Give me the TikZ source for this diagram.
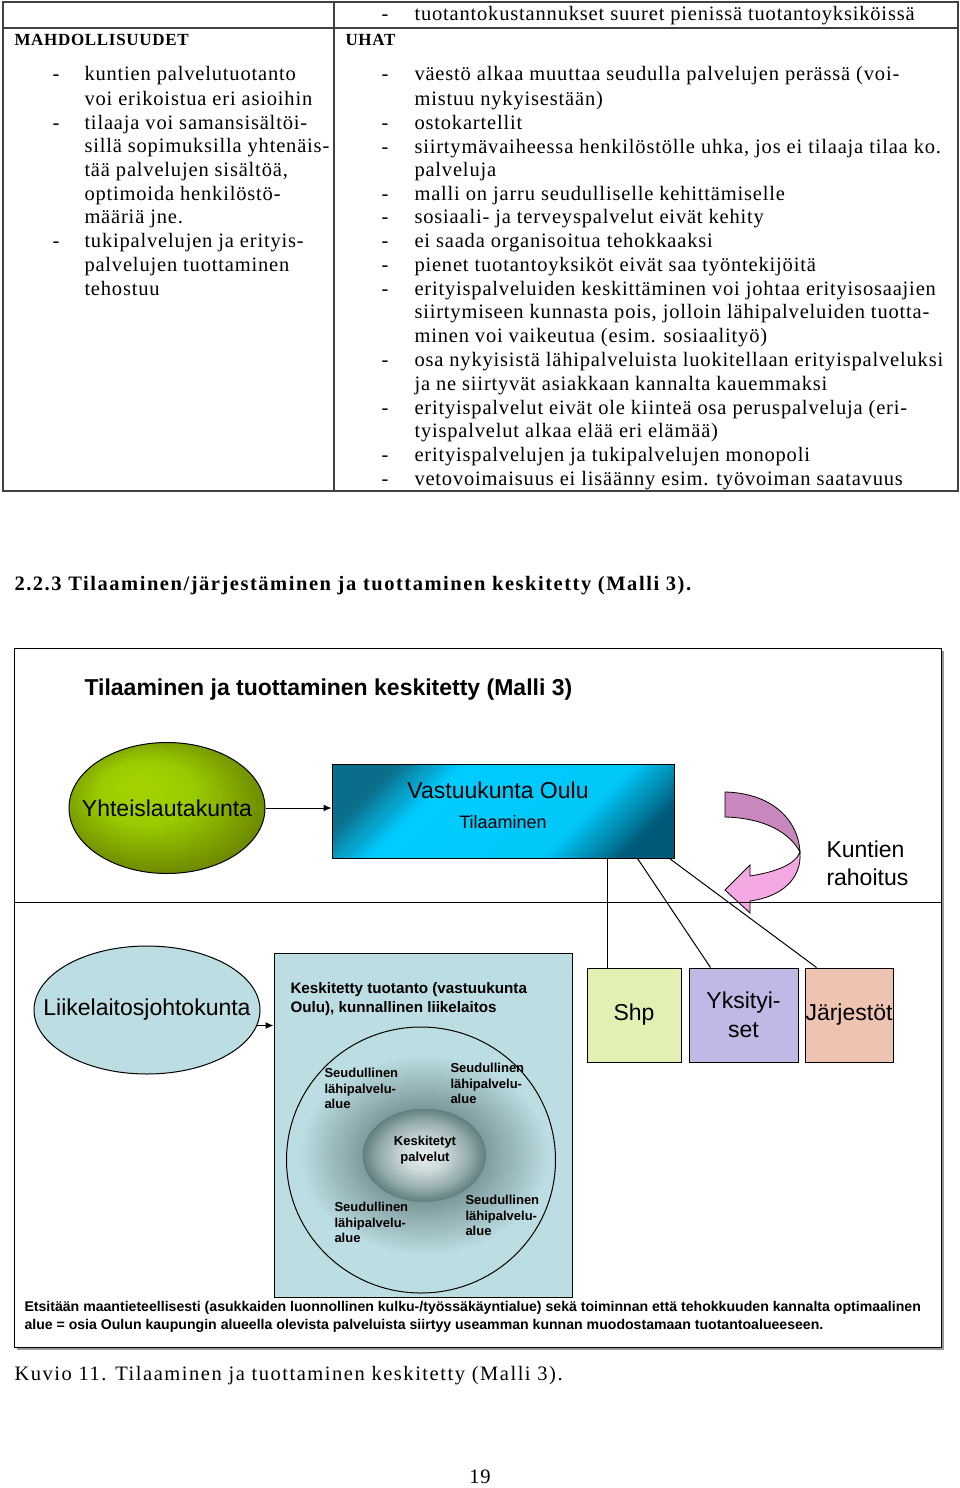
\documentclass[tikz,border=0pt]{standalone}
\usepackage{fontspec}
\setmainfont{Liberation Serif}
\newfontfamily\bodyfont[LetterSpace=4]{Liberation Serif}
\newfontfamily\wideserif[LetterSpace=7.5]{Liberation Serif}
\newfontfamily\diagfont{Liberation Sans}
\usepackage{tikz}
\usetikzlibrary{shapes.geometric, arrows.meta}

\definecolor{keskiblue}{HTML}{BCDDE2}
\definecolor{shpcol}{HTML}{E3F0B4}
\definecolor{yksitcol}{HTML}{C2B8E6}
\definecolor{jarjcol}{HTML}{EFC3B2}
\definecolor{rahadark}{HTML}{C888BE}
\definecolor{rahalight}{HTML}{F4A8E2}
\definecolor{yg1}{HTML}{A4D400}
\definecolor{yg2}{HTML}{99CC00}
\definecolor{yg3}{HTML}{6F8C00}
\definecolor{yg4}{HTML}{4E6400}
\definecolor{vc1}{HTML}{0A6E8A}
\definecolor{vc2}{HTML}{00C8F8}
\definecolor{vc3}{HTML}{00CCFF}
\definecolor{vc4}{HTML}{005A78}
\definecolor{kk1}{HTML}{E6EEEE}
\definecolor{kk2}{HTML}{CFDCDC}
\definecolor{kk3}{HTML}{95ACAD}
\definecolor{kk4}{HTML}{5F7D7F}
\definecolor{halo1}{HTML}{6F8A8C}
\definecolor{halo2}{HTML}{7F9A9C}

\pgfdeclareradialshading{yhteispallo}{\pgfpoint{-8bp}{9bp}}{color(0bp)=(yg1); color(12bp)=(yg2); color(27bp)=(yg3); color(37bp)=(yg4)}
\pgfdeclarehorizontalshading{vastuuvari}{100bp}{color(0bp)=(vc1); color(25bp)=(vc1); color(36bp)=(vc3); color(64bp)=(vc2); color(77bp)=(vc4); color(100bp)=(vc4)}
\pgfdeclareradialshading{keskusvari}{\pgfpoint{0bp}{0bp}}{color(0bp)=(kk1); color(8bp)=(kk2); color(18bp)=(kk3); color(25bp)=(kk4)}
\pgfdeclareradialshading{halovari}{\pgfpoint{0bp}{0bp}}{color(0bp)=(halo1); color(12bp)=(halo2); color(25bp)=(keskiblue)}

\begin{document}
\begin{tikzpicture}[x=1pt, y=-1pt, line width=1pt,
    body/.style={font=\bodyfont\fontsize{20.5}{24}\selectfont, anchor=west,
      inner sep=0pt, text height=14pt, text depth=4pt},
    diag/.style={font=\diagfont\fontsize{23}{28}\selectfont},
    seutu/.style={font=\diagfont\bfseries\fontsize{13}{15.5}\selectfont,
      anchor=north west, align=left, inner sep=0pt},
    palvelija/.style={draw, rectangle, minimum height=94,
      font=\diagfont\fontsize{23}{29}\selectfont, align=center, inner sep=0pt}]

    \useasboundingbox[fill=white] (0,0) rectangle (960,1488);

    % swot table
    \draw[line width=1.3pt, black!75] (3,2) rectangle (958,491);
    \draw[line width=1.3pt, black!75] (3,28) -- (958,28);
    \draw[line width=1.3pt, black!75] (334,2) -- (334,491);

    \node[body, font=\bodyfont\bfseries\fontsize{17}{20}\selectfont] (mahd) at (14,41) {MAHDOLLISUUDET};
    \node[body, font=\bodyfont\bfseries\fontsize{17}{20}\selectfont] (uhat) at (345,41) {UHAT};

    % opportunities
    \foreach \y/\teksti [count=\n] in {
        76/{kuntien palvelutuotanto},
        100/{voi erikoistua eri asioihin},
        124/{tilaaja voi samansisältöi-},
        147/{sillä sopimuksilla yhtenäis-},
        171/{tää palvelujen sisältöä,},
        195/{optimoida henkilöstö-},
        218/{määriä jne.},
        242/{tukipalvelujen ja erityis-},
        266/{palvelujen tuottaminen},
        290/{tehostuu}}
    {
        \node[body] (mahd-\n) at (84,\y) {\teksti};
    }
    \foreach \y [count=\n] in {76,124,242}
        \node[body] (mviiva-\n) at (52,\y) {-};

    % threats
    \foreach \y/\teksti [count=\n] in {
        16/{tuotantokustannukset suuret pienissä tuotantoyksiköissä},
        76/{väestö alkaa muuttaa seudulla palvelujen perässä (voi-},
        100/{mistuu nykyisestään)},
        124/{ostokartellit},
        148/{siirtymävaiheessa henkilöstölle uhka, jos ei tilaaja tilaa ko.},
        171/{palveluja},
        195/{malli on jarru seudulliselle kehittämiselle},
        218/{sosiaali- ja terveyspalvelut eivät kehity},
        242/{ei saada organisoitua tehokkaaksi},
        266/{pienet tuotantoyksiköt eivät saa työntekijöitä},
        290/{erityispalveluiden keskittäminen voi johtaa erityisosaajien},
        313/{siirtymiseen kunnasta pois, jolloin lähipalveluiden tuotta-},
        337/{minen voi vaikeutua (esim. sosiaalityö)},
        361/{osa nykyisistä lähipalveluista luokitellaan erityispalveluksi},
        385/{ja ne siirtyvät asiakkaan kannalta kauemmaksi},
        409/{erityispalvelut eivät ole kiinteä osa peruspalveluja (eri-},
        432/{tyispalvelut alkaa elää eri elämää)},
        456/{erityispalvelujen ja tukipalvelujen monopoli},
        480/{vetovoimaisuus ei lisäänny esim. työvoiman saatavuus}}
    {
        \node[body] (uhka-\n) at (414,\y) {\teksti};
    }
    \foreach \y [count=\n] in {16,76,124,148,195,218,242,266,290,361,409,456,480}
        \node[body] (uviiva-\n) at (381,\y) {-};

    % section heading
    \node[body, font=\wideserif\bfseries\fontsize{20.5}{24}\selectfont] (otsikko) at (14,585)
        {2.2.3 Tilaaminen/järjestäminen ja tuottaminen keskitetty (Malli 3).};

    % diagram frame
    \fill[black!40] (17,651) rectangle (944,1350);
    \draw[fill=white] (14,648) rectangle (941,1347);

    \node[diag, font=\diagfont\bfseries\fontsize{23}{28}\selectfont, anchor=west, inner sep=0pt] (malli) at (84,690)
        {Tilaaminen ja tuottaminen keskitetty (Malli 3)};

    % ordering level
    \node[draw,
    ellipse,
    minimum width = 196,
    minimum height = 131,
    shading = yhteispallo,
    label = {[diag]center:Yhteislautakunta}] (yhteis) at (167,808) {};

    \node[draw,
    rectangle,
    minimum width = 342,
    minimum height = 94,
    shading = vastuuvari,
    shading angle = -45] (vastuu) at (503,811) {};
    \node[diag] (vastuu-t) at (498,790) {Vastuukunta Oulu};
    \node[diag, font=\diagfont\fontsize{18}{22}\selectfont] (tilaa-t) at (503,822) {Tilaaminen};

    % funding arrow
    \filldraw[fill=rahadark, draw=black, line width=0.8pt]
        (725,792) .. controls (770,793) and (798,818) .. (800,852)
        .. controls (790,833) and (765,818) .. (725,817) -- cycle;
    \filldraw[fill=rahalight, draw=black, line width=0.8pt]
        (800,852) .. controls (802,880) and (780,897) .. (750,901)
        -- (750,913) -- (725,890) -- (750,865) -- (750,876)
        .. controls (775,872) and (795,865) .. (800,852) -- cycle;
    \node[diag, anchor=west, align=left, inner sep=0pt] (rahoitus) at (826,863) {Kuntien\\rahoitus};

    \draw (14,902) -- (941,902);

    % producers
    \node[palvelija, minimum width=94, fill=shpcol] (shp) at (634,1015) {Shp};
    \node[palvelija, minimum width=109, fill=yksitcol] (yksit) at (743.5,1015) {Yksityi-\\set};
    \node[palvelija, minimum width=88, fill=jarjcol] (jarj) at (849,1015) {Järjestöt};

    % production level
    \node[draw,
    ellipse,
    minimum width = 226,
    minimum height = 128,
    fill = keskiblue,
    label = {[diag]center:Liikelaitosjohtokunta}] (liike) at (147,1010) {};

    \node[draw,
    rectangle,
    minimum width = 298,
    minimum height = 344,
    fill = keskiblue] (keskit) at (423,1125) {};
    \node[font=\diagfont\bfseries\fontsize{15.2}{19}\selectfont, anchor=north west, align=left, inner sep=0pt]
        (keskit-t) at (290,982) {Keskitetty tuotanto (vastuukunta\\Oulu), kunnallinen liikelaitos};

    % regional areas
    \node[ellipse, minimum width=250, minimum height=200, shading=halovari] (halo) at (424,1155) {};
    \node[draw, ellipse, minimum width=269, minimum height=266] (alue) at (421,1160) {};
    \node[ellipse,
    minimum width = 124,
    minimum height = 94,
    shading = keskusvari] (keskus) at (424,1155) {};
    \node[font=\diagfont\bfseries\fontsize{13}{15.5}\selectfont, align=center] (keskus-t) at (425,1150) {Keskitetyt\\palvelut};

    \node[seutu] (seutu-1) at (324,1068) {Seudullinen\\lähipalvelu-\\alue};
    \node[seutu] (seutu-2) at (450,1063) {Seudullinen\\lähipalvelu-\\alue};
    \node[seutu] (seutu-3) at (334,1202) {Seudullinen\\lähipalvelu-\\alue};
    \node[seutu] (seutu-4) at (465,1195) {Seudullinen\\lähipalvelu-\\alue};

    % connectors
    \draw[-{Latex[length=8pt,width=7pt]}] (yhteis.east) -- (yhteis.east -| vastuu.west);
    \draw[-{Latex[length=8pt,width=7pt]}] (liike.-8) -- (liike.-8 -| keskit.west);
    \draw ([xshift=276]vastuu.south west) -- ([xshift=21]shp.north west);
    \draw ([xshift=306]vastuu.south west) -- ([xshift=22]yksit.north west);
    \draw ([xshift=338]vastuu.south west) -- ([xshift=12]jarj.north west);

    \node[font=\diagfont\bfseries\fontsize{14.1}{18}\selectfont, anchor=north west, align=left, inner sep=0pt] (etsi) at (24,1301)
        {Etsitään maantieteellisesti (asukkaiden luonnollinen kulku-/työssäkäyntialue) sekä toiminnan että tehokkuuden kannalta optimaalinen\\
         alue = osia Oulun kaupungin alueella olevista palveluista siirtyy useamman kunnan muodostamaan tuotantoalueeseen.};

    % caption and page number
    \node[body, font=\wideserif\fontsize{20.5}{24}\selectfont] (kuvio) at (14,1375) {Kuvio 11. Tilaaminen ja tuottaminen keskitetty (Malli 3).};
    \node[body, anchor=center] (sivu) at (480,1478) {19};

\end{tikzpicture}
\end{document}
